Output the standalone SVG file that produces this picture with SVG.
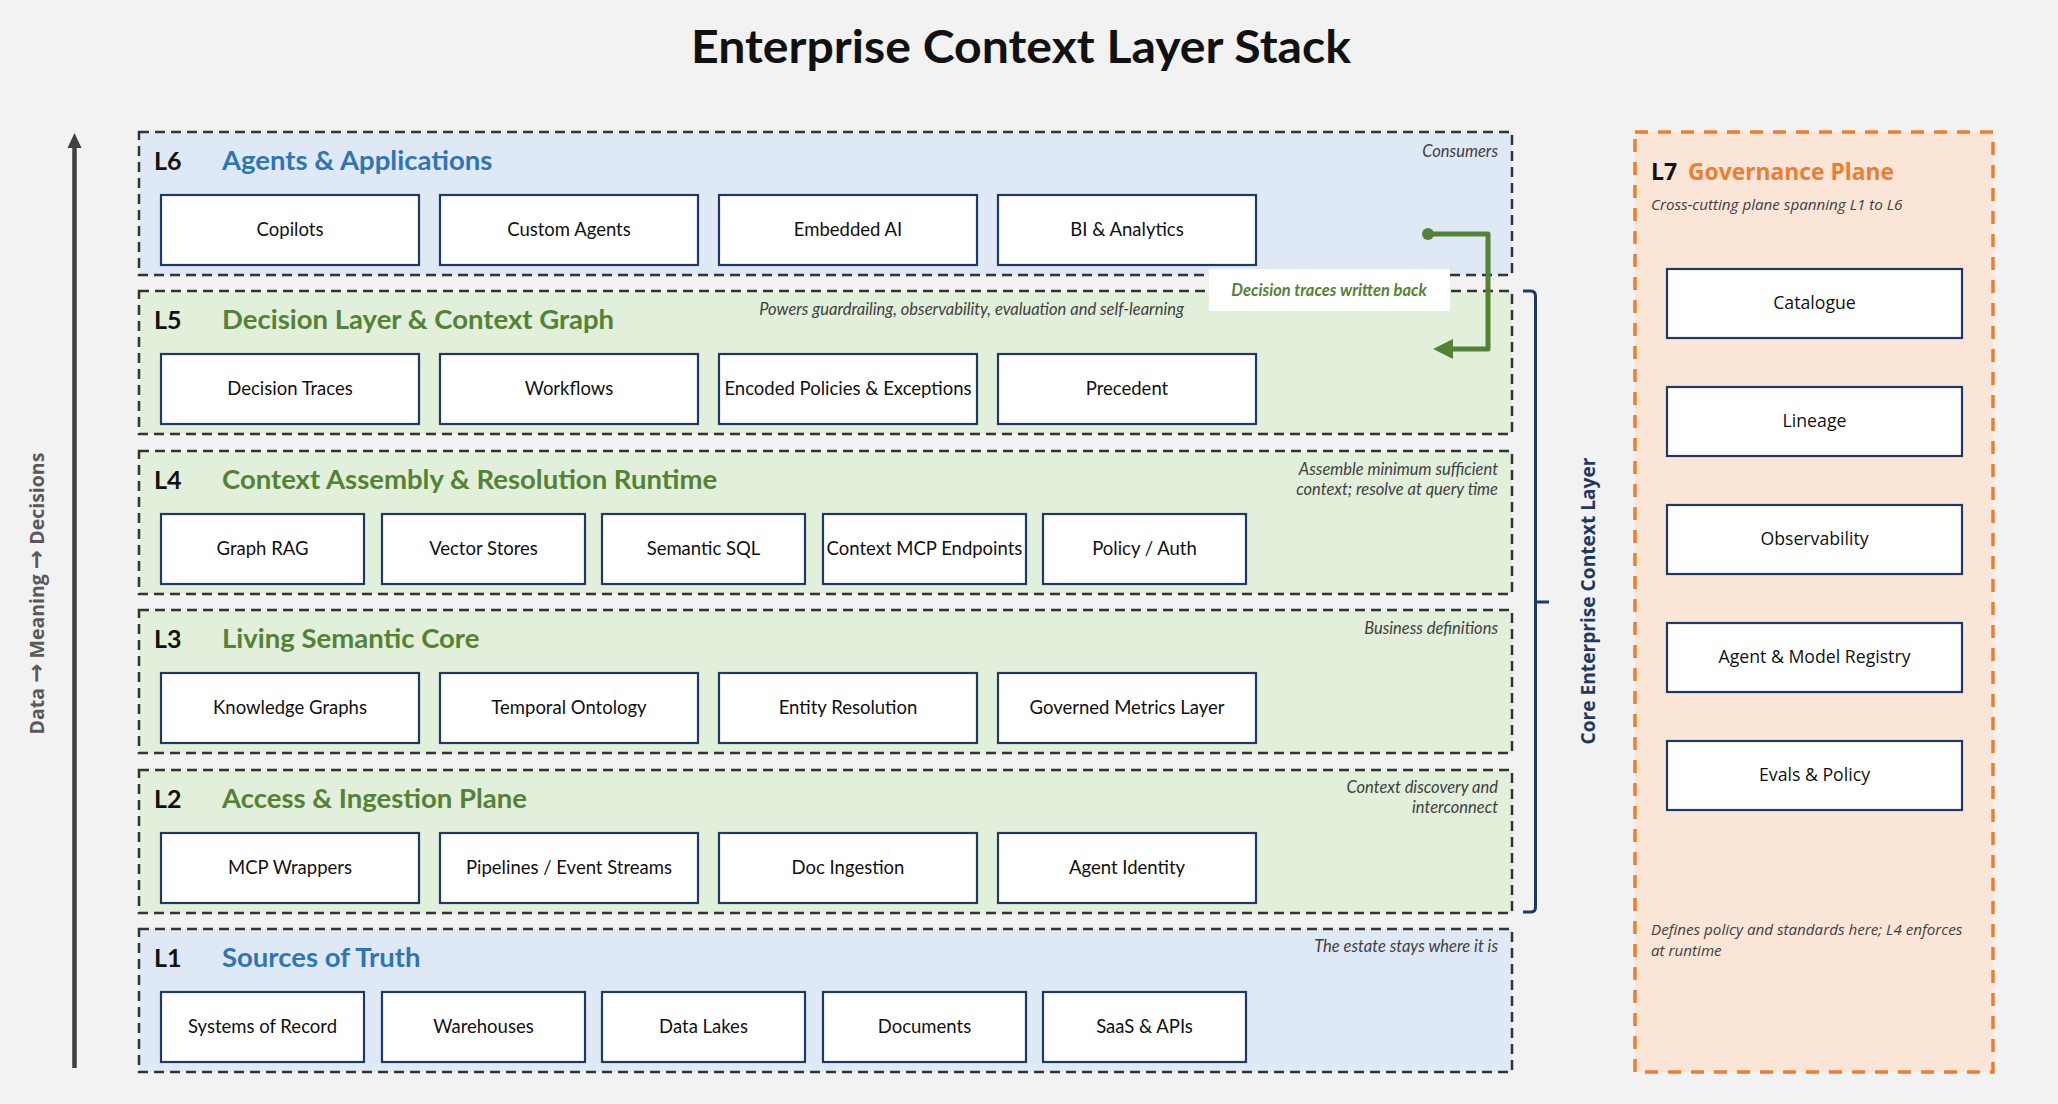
<svg xmlns="http://www.w3.org/2000/svg" width="2058" height="1104" viewBox="0 0 2058 1104">
  <defs>
    <style>
      .layer { stroke: #333333; stroke-width: 2.5; stroke-dasharray: 10 6; }
      .blue { fill: #dee9f5; }
      .green { fill: #e2efda; }
      .box { fill: #ffffff; stroke: #1f3864; stroke-width: 2.2; }
      .btxt { font-family: Lato, "Liberation Sans", sans-serif; font-size: 18.5px; fill: #111111; text-anchor: middle; }
      .gtxt { font-family: "Open Sans", "Liberation Sans", sans-serif; font-size: 17.7px; fill: #111111; text-anchor: middle; }
      .lnum { font-family: Lato, "Liberation Sans", sans-serif; font-size: 25px; font-weight: bold; fill: #111111; }
      .ltitle { font-family: Lato, "Liberation Sans", sans-serif; font-size: 27.5px; font-weight: bold; }
      .tblue { fill: #2e75b6; }
      .tgreen { fill: #548235; }
      .note { font-family: Lato, "Liberation Sans", sans-serif; font-size: 16.5px; font-style: italic; fill: #404040; text-anchor: end; }
      .gnote { font-family: "Open Sans", "Liberation Sans", sans-serif; font-size: 15.2px; font-style: italic; fill: #404040; }
      .arr { font-family: "DejaVu Sans", sans-serif; font-weight: bold; font-size: 23px; }
    </style>
    <marker id="ahGreen" markerWidth="4" markerHeight="4" refX="1" refY="2" orient="auto" markerUnits="strokeWidth">
      <path d="M0,0 L4,2 L0,4 Z" fill="#548235"/>
    </marker>
  </defs>

  <rect x="0" y="0" width="2058" height="1104" fill="#f2f2f2"/>

  <text x="1021" y="63" font-family="Lato, 'Liberation Sans', sans-serif" font-size="45" font-weight="bold" fill="#111111" text-anchor="middle" textLength="660" lengthAdjust="spacingAndGlyphs">Enterprise Context Layer Stack</text>

  <!-- Left axis -->
  <g id="axis">
    <line x1="74.5" y1="1068" x2="74.5" y2="145" stroke="#404040" stroke-width="4.5"/>
    <path d="M74.5,133 L81.5,148 L67.5,148 Z" fill="#404040"/>
    <text transform="translate(44,593.5) rotate(-90)" font-family="'Open Sans', 'Liberation Sans', sans-serif" font-size="19.5" font-weight="bold" fill="#595959" text-anchor="middle">Data <tspan class="arr">→</tspan> Meaning <tspan class="arr">→</tspan> Decisions</text>
  </g>

  <!-- L6 -->
  <g id="L6">
    <rect class="layer blue" x="139" y="132" width="1373" height="143"/>
    <text class="lnum" x="154" y="170">L6</text>
    <text class="ltitle tblue" x="222" y="170">Agents &amp; Applications</text>
    <text class="note" x="1498" y="157">Consumers</text>
  </g>
  <g id="n-copilots"><rect class="box" x="161" y="195" width="258" height="70"/><text class="btxt" x="290" y="236">Copilots</text></g>
  <g id="n-custom-agents"><rect class="box" x="440" y="195" width="258" height="70"/><text class="btxt" x="569" y="236">Custom Agents</text></g>
  <g id="n-embedded-ai"><rect class="box" x="719" y="195" width="258" height="70"/><text class="btxt" x="848" y="236">Embedded AI</text></g>
  <g id="n-bi"><rect class="box" x="998" y="195" width="258" height="70"/><text class="btxt" x="1127" y="236">BI &amp; Analytics</text></g>

  <!-- L5 -->
  <g id="L5">
    <rect class="layer green" x="139" y="291" width="1373" height="143"/>
    <text class="lnum" x="154" y="329">L5</text>
    <text class="ltitle tgreen" x="222" y="329">Decision Layer &amp; Context Graph</text>
    <text class="note" x="1184" y="315">Powers guardrailing, observability, evaluation and self-learning</text>
  </g>
  <g id="n-decision-traces"><rect class="box" x="161" y="354" width="258" height="70"/><text class="btxt" x="290" y="395">Decision Traces</text></g>
  <g id="n-workflows"><rect class="box" x="440" y="354" width="258" height="70"/><text class="btxt" x="569" y="395">Workflows</text></g>
  <g id="n-encoded"><rect class="box" x="719" y="354" width="258" height="70"/><text class="btxt" x="848" y="395">Encoded Policies &amp; Exceptions</text></g>
  <g id="n-precedent"><rect class="box" x="998" y="354" width="258" height="70"/><text class="btxt" x="1127" y="395">Precedent</text></g>

  <!-- L4 -->
  <g id="L4">
    <rect class="layer green" x="139" y="451" width="1373" height="143"/>
    <text class="lnum" x="154" y="489">L4</text>
    <text class="ltitle tgreen" x="222" y="489">Context Assembly &amp; Resolution Runtime</text>
    <text class="note" x="1498" y="475">Assemble minimum sufficient</text>
    <text class="note" x="1498" y="495">context; resolve at query time</text>
  </g>
  <g id="n-graph-rag"><rect class="box" x="161" y="514" width="203" height="70"/><text class="btxt" x="262.5" y="555">Graph RAG</text></g>
  <g id="n-vector"><rect class="box" x="382" y="514" width="203" height="70"/><text class="btxt" x="483.5" y="555">Vector Stores</text></g>
  <g id="n-semsql"><rect class="box" x="602" y="514" width="203" height="70"/><text class="btxt" x="703.5" y="555">Semantic SQL</text></g>
  <g id="n-mcp-endpoints"><rect class="box" x="823" y="514" width="203" height="70"/><text class="btxt" x="924.5" y="555">Context MCP Endpoints</text></g>
  <g id="n-policy-auth"><rect class="box" x="1043" y="514" width="203" height="70"/><text class="btxt" x="1144.5" y="555">Policy / Auth</text></g>

  <!-- L3 -->
  <g id="L3">
    <rect class="layer green" x="139" y="610" width="1373" height="143"/>
    <text class="lnum" x="154" y="648">L3</text>
    <text class="ltitle tgreen" x="222" y="648">Living Semantic Core</text>
    <text class="note" x="1498" y="634">Business definitions</text>
  </g>
  <g id="n-kg"><rect class="box" x="161" y="673" width="258" height="70"/><text class="btxt" x="290" y="714">Knowledge Graphs</text></g>
  <g id="n-temporal"><rect class="box" x="440" y="673" width="258" height="70"/><text class="btxt" x="569" y="714">Temporal Ontology</text></g>
  <g id="n-entity"><rect class="box" x="719" y="673" width="258" height="70"/><text class="btxt" x="848" y="714">Entity Resolution</text></g>
  <g id="n-metrics"><rect class="box" x="998" y="673" width="258" height="70"/><text class="btxt" x="1127" y="714">Governed Metrics Layer</text></g>

  <!-- L2 -->
  <g id="L2">
    <rect class="layer green" x="139" y="770" width="1373" height="143"/>
    <text class="lnum" x="154" y="808">L2</text>
    <text class="ltitle tgreen" x="222" y="808">Access &amp; Ingestion Plane</text>
    <text class="note" x="1498" y="793">Context discovery and</text>
    <text class="note" x="1498" y="813">interconnect</text>
  </g>
  <g id="n-mcp-wrappers"><rect class="box" x="161" y="833" width="258" height="70"/><text class="btxt" x="290" y="874">MCP Wrappers</text></g>
  <g id="n-pipelines"><rect class="box" x="440" y="833" width="258" height="70"/><text class="btxt" x="569" y="874">Pipelines / Event Streams</text></g>
  <g id="n-doc-ingestion"><rect class="box" x="719" y="833" width="258" height="70"/><text class="btxt" x="848" y="874">Doc Ingestion</text></g>
  <g id="n-agent-identity"><rect class="box" x="998" y="833" width="258" height="70"/><text class="btxt" x="1127" y="874">Agent Identity</text></g>

  <!-- L1 -->
  <g id="L1">
    <rect class="layer blue" x="139" y="929" width="1373" height="143"/>
    <text class="lnum" x="154" y="967">L1</text>
    <text class="ltitle tblue" x="222" y="967">Sources of Truth</text>
    <text class="note" x="1498" y="952">The estate stays where it is</text>
  </g>
  <g id="n-sor"><rect class="box" x="161" y="992" width="203" height="70"/><text class="btxt" x="262.5" y="1033">Systems of Record</text></g>
  <g id="n-warehouses"><rect class="box" x="382" y="992" width="203" height="70"/><text class="btxt" x="483.5" y="1033">Warehouses</text></g>
  <g id="n-lakes"><rect class="box" x="602" y="992" width="203" height="70"/><text class="btxt" x="703.5" y="1033">Data Lakes</text></g>
  <g id="n-documents"><rect class="box" x="823" y="992" width="203" height="70"/><text class="btxt" x="924.5" y="1033">Documents</text></g>
  <g id="n-saas"><rect class="box" x="1043" y="992" width="203" height="70"/><text class="btxt" x="1144.5" y="1033">SaaS &amp; APIs</text></g>

  <!-- Connectors -->
  <g id="connectors">
    <path d="M1428,234 L1488,234 L1488,349 L1448,349" fill="none" stroke="#548235" stroke-width="5" stroke-linejoin="round" marker-end="url(#ahGreen)"/>
    <circle cx="1428" cy="234" r="6" fill="#548235"/>
    <g id="label-writeback">
      <rect x="1209" y="269" width="241" height="42" fill="#ffffff"/>
      <text x="1329" y="296" font-family="Lato, 'Liberation Sans', sans-serif" font-size="16.5" font-weight="bold" font-style="italic" fill="#548235" text-anchor="middle">Decision traces written back</text>
    </g>
  </g>

  <!-- Bracket -->
  <g id="core-bracket">
    <path d="M1523,291 L1531,291 Q1535.5,291 1535.5,296 L1535.5,907 Q1535.5,912 1531,912 L1523,912 M1535.5,602 L1549,602" fill="none" stroke="#1f3864" stroke-width="3"/>
    <text transform="translate(1595,601) rotate(-90)" font-family="'Open Sans', 'Liberation Sans', sans-serif" font-size="20" font-weight="bold" fill="#1f3864" text-anchor="middle" textLength="287" lengthAdjust="spacingAndGlyphs">Core Enterprise Context Layer</text>
  </g>

  <!-- L7 -->
  <g id="L7">
    <rect x="1635" y="132" width="358" height="940" fill="#fbe5d6" stroke="#ed7d31" stroke-width="3.5" stroke-dasharray="13 10"/>
    <text x="1651" y="180" font-family="'Open Sans', 'Liberation Sans', sans-serif" font-size="23" font-weight="bold" fill="#111111">L7</text>
    <text x="1688" y="180" font-family="'Open Sans', 'Liberation Sans', sans-serif" font-size="23" font-weight="bold" fill="#ed7d31" textLength="206" lengthAdjust="spacingAndGlyphs">Governance Plane</text>
    <text class="gnote" x="1651" y="210">Cross-cutting plane spanning L1 to L6</text>
    <text class="gnote" x="1651" y="935">Defines policy and standards here; L4 enforces</text>
    <text class="gnote" x="1651" y="956">at runtime</text>
  </g>
  <g id="n-catalogue"><rect class="box" x="1667" y="269" width="295" height="69"/><text class="gtxt" x="1814.5" y="309">Catalogue</text></g>
  <g id="n-lineage"><rect class="box" x="1667" y="387" width="295" height="69"/><text class="gtxt" x="1814.5" y="427">Lineage</text></g>
  <g id="n-observability"><rect class="box" x="1667" y="505" width="295" height="69"/><text class="gtxt" x="1814.5" y="545">Observability</text></g>
  <g id="n-registry"><rect class="box" x="1667" y="623" width="295" height="69"/><text class="gtxt" x="1814.5" y="663">Agent &amp; Model Registry</text></g>
  <g id="n-evals"><rect class="box" x="1667" y="741" width="295" height="69"/><text class="gtxt" x="1814.5" y="781">Evals &amp; Policy</text></g>
</svg>
